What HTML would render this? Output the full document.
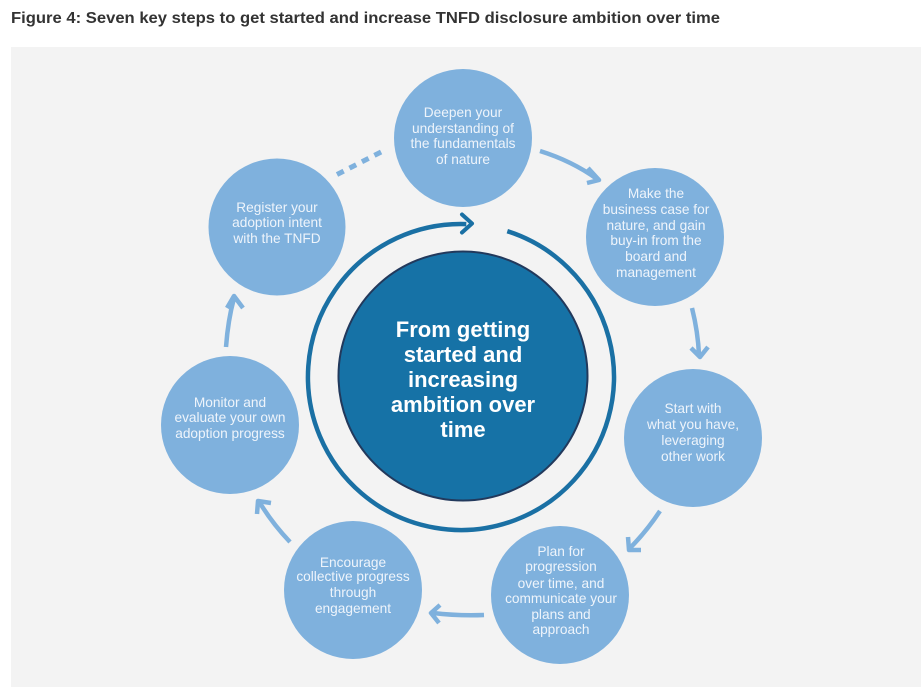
<!DOCTYPE html>
<html><head><meta charset="utf-8"><style>
html,body{margin:0;padding:0;background:#fff;}
svg{display:block;}
.s{font-family:"Liberation Sans",sans-serif;font-size:13.7px;fill:#eef4fb;text-anchor:middle;}
.c{font-family:"Liberation Sans",sans-serif;font-size:22px;font-weight:bold;fill:#fff;text-anchor:middle;}
</style></head><body>
<svg width="921" height="687" viewBox="0 0 921 687" xmlns="http://www.w3.org/2000/svg">
<rect x="0" y="0" width="921" height="687" fill="#fff"/>
<text x="11" y="23" font-family="Liberation Sans, sans-serif" font-size="16" font-weight="bold" fill="#333" textLength="709" lengthAdjust="spacingAndGlyphs">Figure 4: Seven key steps to get started and increase TNFD disclosure ambition over time</text>
<rect x="11" y="47" width="910" height="640" fill="#f3f3f3"/>

<!-- ring -->
<path d="M 507.3 231.2 A 153 153 0 1 1 466.3 224.1" fill="none" stroke="#1a70a4" stroke-width="4.5"/>
<polyline points="462,214.5 472,223.5 462,232.5" fill="none" stroke="#1a70a4" stroke-width="4" stroke-linecap="round" stroke-linejoin="round"/>

<!-- center circle -->
<circle cx="463" cy="376" r="124.5" fill="#1672a6" stroke="#22395c" stroke-width="2"/>
<text class="c" x="463" y="337">From getting</text>
<text class="c" x="463" y="362">started and</text>
<text class="c" x="463" y="387">increasing</text>
<text class="c" x="463" y="412">ambition over</text>
<text class="c" x="463" y="437">time</text>

<!-- satellites -->
<g fill="#7fb1dd">
<circle cx="463" cy="138" r="69"/>
<circle cx="277" cy="227" r="68.5"/>
<circle cx="655" cy="237" r="69"/>
<circle cx="693" cy="438" r="69"/>
<circle cx="560" cy="595" r="69"/>
<circle cx="353" cy="590" r="69"/>
<circle cx="230" cy="425" r="69"/>
</g>

<!-- arrows -->
<g fill="none" stroke="#7fb1dd" stroke-width="4.5" stroke-linejoin="round">
<line x1="337" y1="174.5" x2="385" y2="150" stroke-dasharray="7.5 6.5" stroke-width="5"/>
<path d="M 540 151 Q 572 161 597 179"/>
<polyline points="588,168 599,180 587,183"/>
<path d="M 692 308 Q 698 332 699 355"/>
<polyline points="691,348 700,357 708,347"/>
<path d="M 660 511 Q 646 532 630 548"/>
<polyline points="628,537 629,550 641,550"/>
<path d="M 484 615 Q 458 616 433 613"/>
<polyline points="440,605 431,613 439,623"/>
<path d="M 290 542 Q 272 523 260 503"/>
<polyline points="257,514 258,501 271,503"/>
<path d="M 226 347 Q 228 320 234 298"/>
<polyline points="227,308 234,296 243,308"/>
</g>

<!-- satellite text -->
<text class="s" x="463" y="117">Deepen your</text>
<text class="s" x="463" y="133">understanding of</text>
<text class="s" x="463" y="148">the fundamentals</text>
<text class="s" x="463" y="164">of nature</text>

<text class="s" x="277" y="212">Register your</text>
<text class="s" x="277" y="227">adoption intent</text>
<text class="s" x="277" y="243">with the TNFD</text>

<text class="s" x="656" y="198">Make the</text>
<text class="s" x="656" y="214">business case for</text>
<text class="s" x="656" y="230">nature, and gain</text>
<text class="s" x="656" y="245">buy-in from the</text>
<text class="s" x="656" y="261">board and</text>
<text class="s" x="656" y="277">management</text>

<text class="s" x="693" y="413">Start with</text>
<text class="s" x="693" y="429">what you have,</text>
<text class="s" x="693" y="445">leveraging</text>
<text class="s" x="693" y="461">other work</text>

<text class="s" x="561" y="556">Plan for</text>
<text class="s" x="561" y="571">progression</text>
<text class="s" x="561" y="588">over time, and</text>
<text class="s" x="561" y="603">communicate your</text>
<text class="s" x="561" y="619">plans and</text>
<text class="s" x="561" y="634">approach</text>

<text class="s" x="353" y="567">Encourage</text>
<text class="s" x="353" y="581">collective progress</text>
<text class="s" x="353" y="597">through</text>
<text class="s" x="353" y="613">engagement</text>

<text class="s" x="230" y="407">Monitor and</text>
<text class="s" x="230" y="422">evaluate your own</text>
<text class="s" x="230" y="438">adoption progress</text>
</svg>
</body></html>
